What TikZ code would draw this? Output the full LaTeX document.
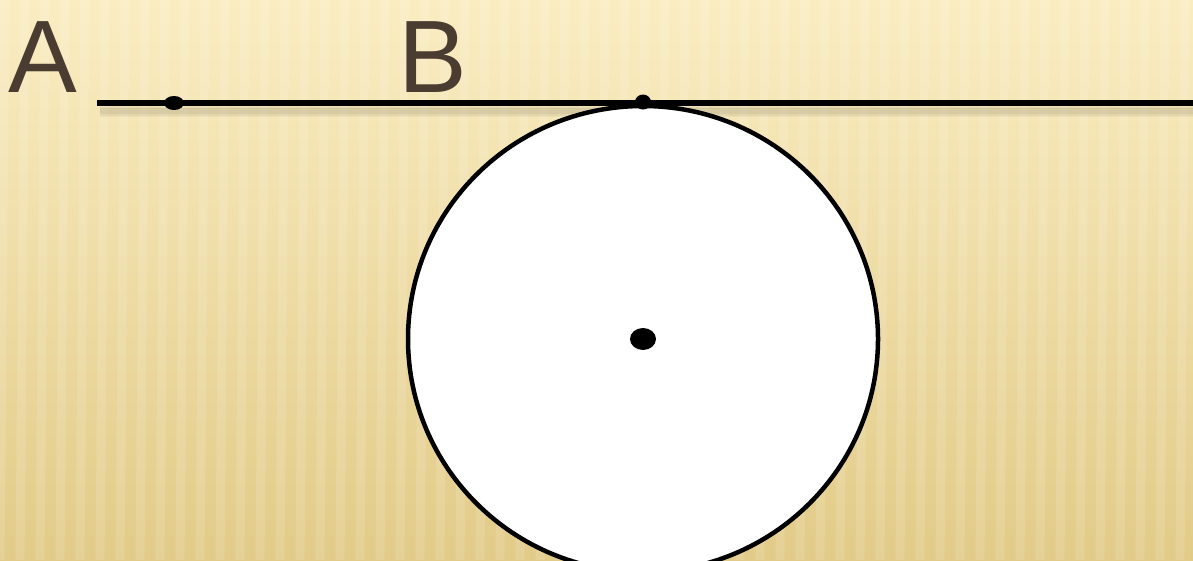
\documentclass[tikz,border=0pt]{standalone}
\usepackage{fontspec}
\setmainfont{Liberation Sans}
\usetikzlibrary{shapes.geometric}
\begin{document}
\begin{tikzpicture}[x=1pt,y=-1pt,
  lbl/.style={text=labelbrown,font=\fontsize{103}{103}\selectfont,inner sep=0pt,anchor=base west},
  pt/.style={fill=black},
  bgstripe/.style={white,opacity=0.13,line width=9pt}]
\definecolor{labelbrown}{HTML}{4A3C31}
\definecolor{bgtop}{HTML}{FAEDC2}
\definecolor{bgbot}{HTML}{E2CB88}
\useasboundingbox (0,0) rectangle (1193,560);
\shade[top color=bgtop,bottom color=bgbot] (0,0) rectangle (1193,560);
\foreach \i in {0,...,60}{
  \draw[bgstripe] (\i*20+5,0) -- (\i*20,560);
}
% line shadow
\foreach \w/\o in {12/0.03,9/0.04,6/0.05}{
  \draw[black,opacity=\o,line width=\w pt] (100,111) -- (1193,111);
}
\coordinate (L0) at (97,103);
\coordinate (L1) at (1193,103);
\draw[line width=6pt] (L0) -- (L1);
% circle
\node[draw=black,line width=4.5pt,fill=white,ellipse,minimum width=470pt,minimum height=466pt,inner sep=0pt] (C) at (643,339) {};
\fill[pt] (643,339) ellipse (13pt and 11pt);
\fill[pt] (174,103) ellipse (10pt and 7pt);
\fill[pt] (643,102) ellipse (8pt and 7.5pt);
\node[lbl] (A) at (8,92) {A};
\node[lbl] (B) at (398,92) {B};
\end{tikzpicture}
\end{document}
